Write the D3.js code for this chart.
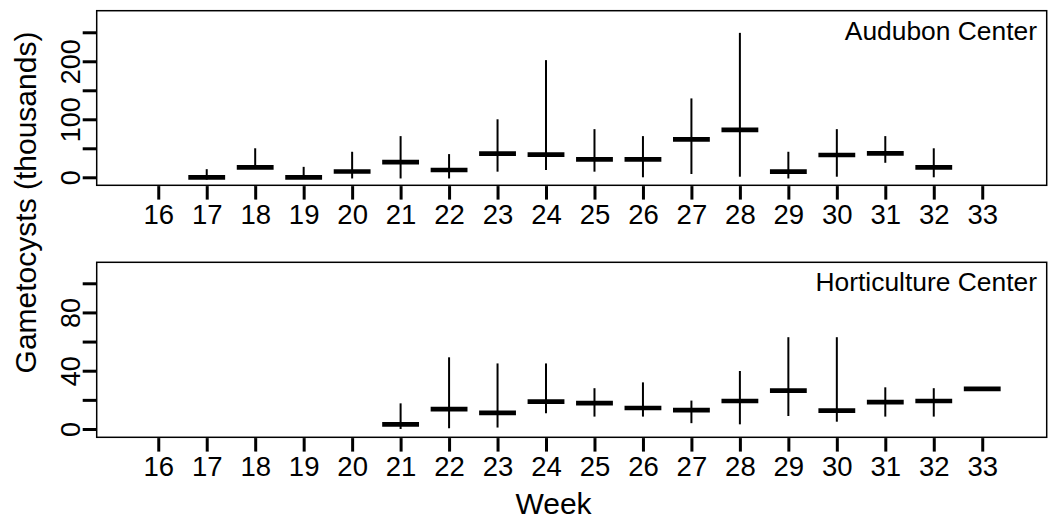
<!DOCTYPE html>
<html>
<head>
<meta charset="utf-8">
<script src="https://cdn.jsdelivr.net/npm/d3@7"></script>
<style>
  body { margin: 0; background: #fff; }
  svg { display: block; font-family: "Liberation Sans", Arial, sans-serif; }
</style>
</head>
<body>
<svg id="chart" width="1053" height="521"></svg>
<script>
// weeks on the x axis
var weeks = [16,17,18,19,20,21,22,23,24,25,26,27,28,29,30,31,32,33];

// Audubon Center (thousands): mean, lower, upper
var audWeeks = [17,18,19,20,21,22,23,24,25,26,27,28,29,30,31,32];
var audMean  = [0,17,0,10,26,12.6,40.7,39,31,31,65.5,81.6,9.7,38.4,41.3,17.2];
var audLow   = [-4,17,0,-2,-2,-2,9.7,12.6,9.7,0,5.7,1,-2,1,25,0];
var audHigh  = [14,50,18,44,71,40,100,202,83,71,136,249,44,83,71,50];

// Horticulture Center (thousands)
var horWeeks = [21,22,23,24,25,26,27,28,29,30,31,32,33];
var horMean  = [3.2,13.7,11,18.8,17.8,14.4,13,19.2,26.3,12.6,18.5,19.2,27.5];
var horLow   = [0,0.5,1,10.8,8.5,8.5,4,3.2,8.9,5,8.5,8.5,27.5];
var horHigh  = [17.6,49.2,45,45,28,32,19.5,39.8,63,63,28.6,28,27.5];

var audTicks = [0,50,100,150,200,250];
var audLabels = [0,100,200];
var horTicks = [0,20,40,60,80,100];
var horLabels = [0,40,80];

var svg = d3.select("#chart");

var left = 96.7, right = 1046.7;
var xScale = d3.scaleLinear().domain([14.73, 34.33]).range([left, right]);

var panels = [
  {name: "Audubon Center", top: 10.7, bottom: 185.3, domain: [-13.8, 287.2],
   w: audWeeks, m: audMean, lo: audLow, hi: audHigh, ticks: audTicks, labels: audLabels},
  {name: "Horticulture Center", top: 262.3, bottom: 437.3, domain: [-5.7, 114.4],
   w: horWeeks, m: horMean, lo: horLow, hi: horHigh, ticks: horTicks, labels: horLabels}
];

panels.forEach(function(p){
  var yScale = d3.scaleLinear().domain(p.domain).range([p.bottom, p.top]);
  var g = svg.append("g");

  // box
  g.append("rect")
    .attr("x", left).attr("y", p.top)
    .attr("width", right-left).attr("height", p.bottom-p.top)
    .attr("fill", "none").attr("stroke", "#000").attr("stroke-width", 1.5);

  // y axis
  var yAxis = d3.axisLeft(yScale)
    .tickValues(p.ticks)
    .tickSizeInner(14).tickSizeOuter(0)
    .tickFormat(function(d){ return p.labels.indexOf(d) >= 0 ? d : ""; });
  var ya = g.append("g")
    .attr("transform", "translate(" + left + ",0)")
    .call(yAxis);
  ya.select(".domain").remove();
  ya.selectAll("line").attr("stroke", "#000").attr("stroke-width", 3);
  ya.selectAll("text")
    .attr("x", null).attr("dy", null)
    .attr("transform", "translate(-16.5,0) rotate(-90)")
    .attr("text-anchor", "middle")
    .attr("fill", "#000")
    .style("font-size", "27px")
    .style("font-family", "Liberation Sans, Arial, sans-serif");

  // x axis
  var xAxis = d3.axisBottom(xScale)
    .tickValues(weeks)
    .tickSizeInner(13.5).tickSizeOuter(0)
    .tickFormat(d3.format("d"));
  var xa = g.append("g")
    .attr("transform", "translate(0," + (p.bottom+0.8) + ")")
    .call(xAxis);
  xa.select(".domain").remove();
  xa.selectAll("line").attr("stroke", "#000").attr("stroke-width", 3);
  xa.selectAll("text")
    .attr("dy", null).attr("y", 38)
    .attr("fill", "#000")
    .style("font-size", "27.5px")
    .style("font-family", "Liberation Sans, Arial, sans-serif");

  // panel label
  g.append("text")
    .attr("x", 1037).attr("y", p.top + 29)
    .attr("text-anchor", "end")
    .style("font-size", "26.4px")
    .text(p.name);

  var rows = p.w.map(function(w, i){ return {w: w, m: p.m[i], lo: p.lo[i], hi: p.hi[i]}; });

  // range lines
  g.selectAll(".rng").data(rows.filter(function(d){ return d.hi > d.lo; })).enter()
    .append("line")
    .attr("x1", d => xScale(d.w)).attr("x2", d => xScale(d.w))
    .attr("y1", d => yScale(d.lo)).attr("y2", d => yScale(d.hi))
    .attr("stroke", "#000").attr("stroke-width", 2);

  // mean bars
  g.selectAll(".mean").data(rows).enter()
    .append("line")
    .attr("x1", d => xScale(d.w - 0.38)).attr("x2", d => xScale(d.w + 0.38))
    .attr("y1", d => yScale(d.m)).attr("y2", d => yScale(d.m))
    .attr("stroke", "#000").attr("stroke-width", 4.7);
});

// axis titles
svg.append("text")
  .attr("transform", "translate(36,202.5) rotate(-90)")
  .attr("text-anchor", "middle")
  .style("font-size", "30px")
  .text("Gametocysts (thousands)");

svg.append("text")
  .attr("x", 553.5).attr("y", 514)
  .attr("text-anchor", "middle")
  .style("font-size", "30px")
  .text("Week");
</script>
</body>
</html>
